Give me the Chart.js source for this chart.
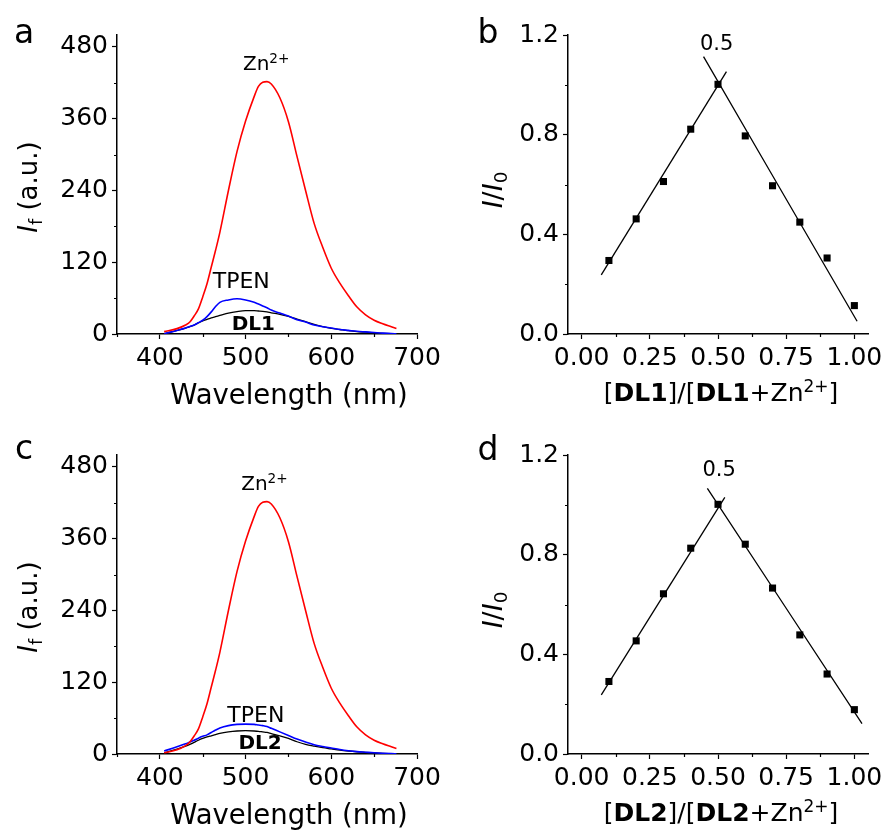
<!DOCTYPE html>
<html>
<head>
<meta charset="utf-8">
<script src="https://cdn.jsdelivr.net/npm/chart.js@4.4.1/dist/chart.umd.min.js"></script>
<style>
  body { margin: 0; background: #fff; }
  #wrap { position: relative; width: 887px; height: 832px; }
  canvas { position: absolute; }
</style>
</head>
<body>
<div id="wrap">
  <canvas id="chart-a" width="440" height="420" style="left:0;top:0"></canvas>
  <canvas id="chart-b" width="447" height="420" style="left:440px;top:0"></canvas>
  <canvas id="chart-c" width="440" height="412" style="left:0;top:420px"></canvas>
  <canvas id="chart-d" width="447" height="412" style="left:440px;top:420px"></canvas>
</div>
<script>
// emission spectra (a, c)
const wavelength = [405, 420, 430, 435, 440, 445, 450, 455, 460, 465, 470, 480, 490, 500, 510, 515, 520, 525, 530, 540, 550, 560, 570, 580, 590, 600, 610, 620, 630, 640, 650, 660, 670, 676];
const zincA = [4, 9, 15, 20, 30, 42, 62, 84, 112, 140, 170, 240, 305, 356, 397, 414, 421, 422, 418, 395, 355, 297, 240, 185, 145, 110, 85, 64, 45, 32, 23, 17, 12, 9];
const tpenA = [0.5, 6, 10, 12.5, 15, 19, 23, 29, 37, 46, 53, 57, 59, 57, 53, 50, 47, 44, 40, 35, 30, 24, 20, 15, 12, 10, 7.5, 6, 4.5, 3.5, 2.5, 1.5, 0.8, 0.3];
const dl1 = [0.5, 6, 10, 12.5, 15, 18.5, 22, 24.5, 27, 29, 31, 35, 37.5, 39, 39, 38.5, 38, 37, 35.5, 33, 29.5, 25, 20.5, 16, 12.5, 9.5, 7.5, 5.5, 4, 3, 2, 1.2, 0.6, 0.3];
const zincC = [2, 7, 14, 20, 30, 42, 62, 84, 112, 140, 170, 240, 305, 356, 397, 414, 421, 422, 418, 395, 355, 297, 240, 185, 145, 110, 85, 64, 45, 32, 23, 17, 12, 9];
const tpenC = [5, 12, 17, 20, 23, 26.5, 29.5, 32, 36, 40, 43.5, 47.5, 49.5, 50, 49.5, 48.5, 47.5, 46, 43, 37, 31, 25, 20, 15.5, 12.5, 10, 7.5, 5.5, 4, 3, 2, 1.2, 0.6, 0.3];
const dl2 = [2, 8, 13, 16, 19.5, 23, 26, 28.5, 30.5, 32.5, 34.5, 37, 38.5, 39, 38.5, 38, 37, 36, 34, 30.5, 26, 20.5, 16, 13, 10.5, 8.5, 6.5, 5, 3.8, 2.8, 1.8, 1, 0.5, 0.2];

// Job plots (b, d)
const ratio = [0.1, 0.2, 0.3, 0.4, 0.5, 0.6, 0.7, 0.8, 0.9, 1.0];
const jobDL1 = [0.295, 0.462, 0.612, 0.822, 1.002, 0.795, 0.595, 0.449, 0.305, 0.114];
const jobDL2 = [0.291, 0.454, 0.643, 0.826, 1.002, 0.842, 0.666, 0.478, 0.321, 0.178];
const fitUpX1 = [0.072, 0.531], fitUpY1 = [0.237, 1.053];
const fitDownX1 = [0.447, 1.010], fitDownY1 = [1.113, 0.051];
const fitUpX2 = [0.072, 0.525], fitUpY2 = [0.237, 1.030];
const fitDownX2 = [0.461, 1.028], fitDownY2 = [1.066, 0.122];

// ticks
const specTicksX = [400, 500, 600, 700];
const specMinorX = [350, 450, 550, 650];
const specTicksY = [0, 120, 240, 360, 480];
const specMinorY = [60, 180, 300, 420];
const jobTicksX = [0, 0.25, 0.5, 0.75, 1];
const jobMinorX = [0.125, 0.375, 0.625, 0.875];
const jobTicksY = [0, 0.4, 0.8, 1.2];
const jobMinorY = [0.2, 0.6, 1.0];

const FONT = '"DejaVu Sans"';
Chart.defaults.font.family = FONT;
Chart.defaults.color = '#000';

const pairs = (xs, ys) => xs.map((x, i) => ({ x, y: ys[i] }));

// draw text made of pieces (italic, bold, sub, sup), centred on x
const drawRich = (ctx, segs, x, y, size, rot) => {
    const fontOf = (s) => {
        const sz = s.sub || s.sup ? size * 0.68 : size;
        return (s.it ? 'italic ' : '') + (s.b ? 'bold ' : '') + sz + 'px ' + FONT;
    };
    ctx.save();
    ctx.translate(x, y);
    if (rot) ctx.rotate(rot);
    let w = 0;
    segs.forEach((s) => { ctx.font = fontOf(s); w += ctx.measureText(s.t).width; });
    let cx = -w / 2;
    ctx.fillStyle = '#000';
    ctx.textBaseline = 'alphabetic';
    ctx.textAlign = 'left';
    segs.forEach((s) => {
        ctx.font = fontOf(s);
        const dy = s.sup ? -size * 0.36 : s.sub ? size * 0.2 : 0;
        ctx.fillText(s.t, cx, dy);
        cx += ctx.measureText(s.t).width;
    });
    ctx.restore();
};

const extras = {
    id: 'extras',
    afterDraw(chart, args, opts) {
        const ctx = chart.ctx;
        const { x, y } = chart.scales;
        ctx.save();
        ctx.strokeStyle = '#000';
        ctx.lineWidth = 1.2;
        ctx.beginPath();
        (opts.minorX || []).forEach((v) => {
            const px = Math.round(x.getPixelForValue(v)) + 0.5;
            ctx.moveTo(px, x.top);
            ctx.lineTo(px, x.top + 3);
        });
        (opts.minorY || []).forEach((v) => {
            const py = Math.round(y.getPixelForValue(v)) + 0.5;
            ctx.moveTo(y.right, py);
            ctx.lineTo(y.right - 3, py);
        });
        ctx.stroke();
        ctx.restore();
        (opts.notes || []).forEach((n) => {
            drawRich(ctx, n.segs, x.getPixelForValue(n.x), y.getPixelForValue(n.y), n.size);
        });
        (opts.titles || []).forEach((t) => {
            drawRich(ctx, t.segs, t.px, t.py, t.size, t.rot);
        });
    },
};

const axis = (min, max, ticks, fmt, fit) => ({
    type: 'linear',
    min,
    max,
    afterBuildTicks: (s) => { s.ticks = ticks.map((v) => ({ value: v })); },
    afterFit: fit,
    border: { display: true, color: '#000', width: 1.5 },
    grid: { display: true, drawOnChartArea: false, drawTicks: true, tickLength: 5, tickColor: '#000', tickWidth: 1.2 },
    ticks: { color: '#000', padding: 4, font: { size: 25 }, autoSkip: false, maxRotation: 0, callback: fmt },
});
const fixW = (w) => (s) => { s.width = w; s.paddingTop = 0; s.paddingBottom = 0; };
const fixH = (h) => (s) => { s.height = h; s.paddingLeft = 0; s.paddingRight = 0; };

const lineSet = (xs, ys, color, width) => ({
    data: pairs(xs, ys),
    showLine: true,
    borderColor: color,
    borderWidth: width,
    pointRadius: 0,
    cubicInterpolationMode: 'monotone',
});

const yTitleSpec = { segs: [{ t: 'I', it: true }, { t: 'f', sub: true }, { t: ' (a.u.)' }], px: 37, py: 187, size: 26, rot: -Math.PI / 2 };
const yTitleJob = { segs: [{ t: 'I', it: true }, { t: '/' }, { t: 'I', it: true }, { t: '0', sub: true }], px: 62, py: 190, size: 27, rot: -Math.PI / 2 };
const xTitleSpec = { segs: [{ t: 'Wavelength (nm)' }], px: 289, py: 404, size: 27.5 };
const xTitleJob = (n) => ({
    segs: [{ t: '[' }, { t: n, b: true }, { t: ']/[' }, { t: n, b: true }, { t: '+Zn' }, { t: '2+', sup: true }, { t: ']' }],
    px: 281, py: 401, size: 25,
});
const letter = (t, px, py) => ({ segs: [{ t }], px, py, size: 33 });

const spectrum = (id, zinc, tpen, dl, dlName, xH, notes, letterY) => new Chart(document.getElementById(id), {
    type: 'scatter',
    data: {
        datasets: [
            lineSet(wavelength, zinc, '#ff0000', 1.6),
            lineSet(wavelength, tpen, '#0000ff', 1.6),
            lineSet(wavelength, dl, '#000000', 1.3),
        ],
    },
    options: {
        responsive: false,
        animation: false,
        events: [],
        layout: { padding: { left: 0, top: 35, right: 23, bottom: 0 } },
        scales: {
            x: axis(350, 700, specTicksX, (v) => String(v), fixH(xH)),
            y: axis(0, 500, specTicksY, (v) => String(v), fixW(117)),
        },
        plugins: {
            legend: { display: false },
            tooltip: { enabled: false },
            extras: {
                minorX: specMinorX,
                minorY: specMinorY,
                notes,
                titles: [yTitleSpec, xTitleSpec, letterY],
            },
        },
    },
    plugins: [extras],
});

const job = (id, vals, up, down, name, xH, note, letterB) => new Chart(document.getElementById(id), {
    type: 'scatter',
    data: {
        datasets: [
            {
                data: pairs(ratio, vals),
                pointStyle: 'rect',
                pointRadius: 5,
                backgroundColor: '#000',
                borderWidth: 0,
            },
            lineSet(up[0], up[1], '#000', 1.3),
            lineSet(down[0], down[1], '#000', 1.3),
        ],
    },
    options: {
        responsive: false,
        animation: false,
        events: [],
        layout: { padding: { left: 0, top: 35, right: 19, bottom: 0 } },
        scales: {
            x: axis(-0.05, 1.05, jobTicksX, (v) => v.toFixed(2), fixH(xH)),
            y: axis(0, 1.2, jobTicksY, (v) => v.toFixed(1), fixW(128)),
        },
        plugins: {
            legend: { display: false },
            tooltip: { enabled: false },
            extras: {
                minorX: jobMinorX,
                minorY: jobMinorY,
                notes: [note],
                titles: [yTitleJob, xTitleJob(name), letterB],
            },
        },
    },
    plugins: [extras],
});

spectrum('chart-a', zincA, tpenA, dl1, 'DL1', 86, [
    { segs: [{ t: 'Zn' }, { t: '2+', sup: true }], x: 524, y: 441, size: 20 },
    { segs: [{ t: 'TPEN' }], x: 495, y: 77, size: 22 },
    { segs: [{ t: 'DL1', b: true }], x: 509, y: 7, size: 20 },
], letter('a', 24, 43));

spectrum('chart-c', zincC, tpenC, dl2, 'DL2', 78, [
    { segs: [{ t: 'Zn' }, { t: '2+', sup: true }], x: 522, y: 441, size: 20 },
    { segs: [{ t: 'TPEN' }], x: 512, y: 54, size: 22 },
    { segs: [{ t: 'DL2', b: true }], x: 517, y: 8, size: 20 },
], letter('c', 24, 39));

job('chart-b', jobDL1, [fitUpX1, fitUpY1], [fitDownX1, fitDownY1], 'DL1', 86,
    { segs: [{ t: '0.5' }], x: 0.495, y: 1.14, size: 21 }, letter('b', 48, 43));

job('chart-d', jobDL2, [fitUpX2, fitUpY2], [fitDownX2, fitDownY2], 'DL2', 78,
    { segs: [{ t: '0.5' }], x: 0.504, y: 1.116, size: 21 }, letter('d', 48, 40));
</script>
</body>
</html>
